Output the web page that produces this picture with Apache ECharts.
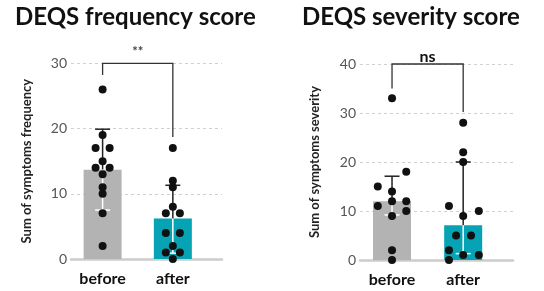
<!DOCTYPE html>
<html>
<head>
    <meta http-equiv="Content-Type" content="text/html; charset=UTF-8" />
    <title>DEQS</title>
    <script src="https://cdn.jsdelivr.net/npm/echarts@6/dist/echarts.min.js"></script>
    <style>
        html, body { margin: 0; padding: 0; background: #fff; }
        #main { width: 544px; height: 291px; }
    </style>
</head>
<body>
<div id="main"></div>
<script type="text/javascript">
    // 数据
    var categories = ['before', 'after'];
    var barColors = ['#b3b3b3', '#05a3b3'];

    // frequency
    var freqMean = [13.7, 6.2];
    var freqLow = [7.5, 0.9];
    var freqHigh = [19.9, 11.3];
    var freqBefore = [26, 19, 17, 17, 15, 14, 14, 13, 11, 10, 7, 2];
    var freqBeforeJitter = [0, 0, -0.1, 0.1, 0, -0.1, 0.1, 0, 0, 0, 0, 0];
    var freqAfter = [17, 12, 11, 8, 7, 7, 4, 4, 2, 1, 1, 0];
    var freqAfterJitter = [0, 0, 0, 0, -0.1, 0.1, -0.1, 0.1, 0, -0.1, 0.1, 0];
    var freqBracket = [0, 1, 30, 28.2, 18.7];
    var freqSig = '**';

    // severity
    var sevMedian = [12, 7.1];
    var sevLow = [9.2, 1.3];
    var sevHigh = [17.1, 20];
    var sevBefore = [33, 18, 15, 14, 12, 12, 11, 10, 9, 2, 0];
    var sevBeforeJitter = [0, 0.2, -0.2, 0, 0, 0.2, -0.2, 0.2, 0, 0, 0];
    var sevAfter = [28, 22, 20, 11, 10, 9, 5, 5, 2, 1, 1, 0];
    var sevAfterJitter = [0, 0, 0, -0.2, 0.22, 0, -0.1, 0.11, -0.2, 0, 0.22, -0.2];
    var sevBracket = [0, 1, 40, 35, 30.2];
    var sevSig = 'ns';

    var FONT = 'Lato';

    function barData(vals) {
        return vals.map(function (v, i) {
            return { value: [i, v], itemStyle: { color: barColors[i] } };
        });
    }
    function dotData(vals, jit, idx) {
        return vals.map(function (v, i) { return [idx + jit[i], v]; });
    }
    function errData(mid, lo, hi) {
        return mid.map(function (m, i) { return [i, m, lo[i], hi[i]]; });
    }

    // 误差线：柱内白色，柱外黑色
    function renderErr(params, api) {
        var x = api.value(0);
        var pm = api.coord([x, api.value(1)]);
        var pl = api.coord([x, api.value(2)]);
        var ph = api.coord([x, api.value(3)]);
        var w = 7.5;
        return {
            type: 'group',
            children: [
                { type: 'line', shape: { x1: pm[0], y1: pm[1], x2: ph[0], y2: ph[1] }, style: { stroke: '#222', lineWidth: 1.5 } },
                { type: 'line', shape: { x1: ph[0] - w, y1: ph[1], x2: ph[0] + w, y2: ph[1] }, style: { stroke: '#222', lineWidth: 1.5 } },
                { type: 'line', shape: { x1: pm[0], y1: pm[1], x2: pl[0], y2: pl[1] }, style: { stroke: '#fff', lineWidth: 1.5 } },
                { type: 'line', shape: { x1: pl[0] - w, y1: pl[1], x2: pl[0] + w, y2: pl[1] }, style: { stroke: '#fff', lineWidth: 1.5 } }
            ]
        };
    }

    function makeBracketRender(label, labelStyle) {
        return function (params, api) {
            var a = api.coord([api.value(0), api.value(3)]);
            var b = api.coord([api.value(0), api.value(2)]);
            var c = api.coord([api.value(1), api.value(2)]);
            var d = api.coord([api.value(1), api.value(4)]);
            return {
                type: 'group',
                children: [
                    { type: 'polyline', shape: { points: [a, b, c, d] }, style: { stroke: '#333', lineWidth: 1.3, fill: null } },
                    {
                        type: 'text',
                        style: Object.assign({
                            text: label,
                            x: (b[0] + c[0]) / 2,
                            align: 'center',
                            verticalAlign: 'bottom',
                            fontFamily: FONT
                        }, labelStyle(b[1]))
                    }
                ]
            };
        };
    }

    function xAxisFor(gi) {
        return {
            type: 'value', gridIndex: gi, min: -0.45, max: 1.7,
            splitLine: { show: false },
            axisLine: { show: true, onZero: false, lineStyle: { color: '#cccccc', width: 2.5 } },
            axisTick: { show: false },
            axisLabel: {
                customValues: [0, 1],
                formatter: function (v) { return categories[Math.round(v)]; },
                color: '#111', fontFamily: FONT, fontWeight: 'bold', fontSize: 16, margin: 12
            }
        };
    }
    function yAxisFor(gi, max, name, gap) {
        return {
            type: 'value', gridIndex: gi, min: 0, max: max, interval: 10,
            name: name, nameLocation: 'middle', nameGap: gap,
            nameTextStyle: { fontFamily: FONT, fontWeight: 'bold', fontSize: 13, color: '#222' },
            axisLine: { show: false },
            axisTick: { show: false },
            axisLabel: { color: '#555', fontFamily: FONT, fontSize: 14, margin: 4 },
            splitLine: { show: true, lineStyle: { color: '#d0d0d0', type: [3, 3], width: 1 } }
        };
    }

    var myChart = echarts.init(document.getElementById('main'));
    var option = {
        animation: false,
        title: [
            { text: 'DEQS frequency score', left: 10, top: 0, textStyle: { fontFamily: FONT, fontWeight: 'bold', fontSize: 24, color: '#111' } },
            { text: 'DEQS severity score', left: 297, top: 0, textStyle: { fontFamily: FONT, fontWeight: 'bold', fontSize: 24, color: '#111' } }
        ],
        grid: [
            { left: 71, top: 63.3, width: 151, height: 195.7 },
            { left: 360, top: 64, width: 153, height: 196 }
        ],
        xAxis: [xAxisFor(0), xAxisFor(1)],
        yAxis: [
            yAxisFor(0, 30, 'Sum of symptoms frequency', 38),
            yAxisFor(1, 40, 'Sum of symptoms severity', 39)
        ],
        series: [
            { type: 'bar', xAxisIndex: 0, yAxisIndex: 0, barWidth: 38, data: barData(freqMean), z: 1 },
            { type: 'custom', xAxisIndex: 0, yAxisIndex: 0, renderItem: renderErr, data: errData(freqMean, freqLow, freqHigh), z: 2, clip: false },
            { type: 'scatter', xAxisIndex: 0, yAxisIndex: 0, symbolSize: 8, itemStyle: { color: '#111', opacity: 1 }, data: dotData(freqBefore, freqBeforeJitter, 0), z: 3, clip: false },
            { type: 'scatter', xAxisIndex: 0, yAxisIndex: 0, symbolSize: 8, itemStyle: { color: '#111', opacity: 1 }, data: dotData(freqAfter, freqAfterJitter, 1), z: 3, clip: false },
            {
                type: 'custom', xAxisIndex: 0, yAxisIndex: 0, clip: false, z: 4, data: [freqBracket],
                renderItem: makeBracketRender(freqSig, function (y) { return { y: y - 5, fontSize: 13, fill: '#444', fontWeight: 'bold' }; })
            },

            { type: 'bar', xAxisIndex: 1, yAxisIndex: 1, barWidth: 38, data: barData(sevMedian), z: 1 },
            { type: 'custom', xAxisIndex: 1, yAxisIndex: 1, renderItem: renderErr, data: errData(sevMedian, sevLow, sevHigh), z: 2, clip: false },
            { type: 'scatter', xAxisIndex: 1, yAxisIndex: 1, symbolSize: 8, itemStyle: { color: '#111', opacity: 1 }, data: dotData(sevBefore, sevBeforeJitter, 0), z: 3, clip: false },
            { type: 'scatter', xAxisIndex: 1, yAxisIndex: 1, symbolSize: 8, itemStyle: { color: '#111', opacity: 1 }, data: dotData(sevAfter, sevAfterJitter, 1), z: 3, clip: false },
            {
                type: 'custom', xAxisIndex: 1, yAxisIndex: 1, clip: false, z: 4, data: [sevBracket],
                renderItem: makeBracketRender(sevSig, function (y) { return { y: y + 1, fontSize: 16, fill: '#111', fontWeight: 'bold' }; })
            }
        ]
    };
    myChart.setOption(option);
</script>
</body>
</html>
